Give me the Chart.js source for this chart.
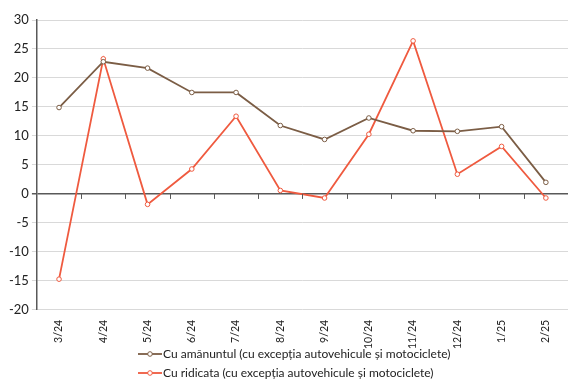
<!DOCTYPE html>
<html>
<head>
<meta charset="utf-8">
<script src="https://cdn.jsdelivr.net/npm/chart.js@4"></script>
<style>
  body { margin: 0; background: #fff; }
  #wrap { position: relative; width: 568px; height: 380px; }
  #legend { position: absolute; left: 138px; top: 344px; font-family: Lato, sans-serif; font-size: 12px; color: #222; }
  .item { display: flex; align-items: center; height: 19px; }
  .item canvas { margin-right: 1px; }
</style>
</head>
<body>
<div id="wrap">
  <canvas id="chart" width="568" height="380"></canvas>
  <div id="legend"></div>
</div>
<script>
const months = ['3/24', '4/24', '5/24', '6/24', '7/24', '8/24', '9/24', '10/24', '11/24', '12/24', '1/25', '2/25'];
const retailValues = [14.9, 22.8, 21.7, 17.5, 17.5, 11.8, 9.4, 13.1, 10.9, 10.8, 11.6, 2.0];
const wholesaleValues = [-14.7, 23.3, -1.8, 4.3, 13.4, 0.6, -0.7, 10.3, 26.4, 3.4, 8.2, -0.7];
const seriesNames = [
  'Cu amănuntul (cu excepția autovehicule și motociclete)',
  'Cu ridicata (cu excepția autovehicule și motociclete)'
];
const seriesColors = ['#7b5d45', '#ef5a3f'];

// small tick marks hanging under the zero line, one per category boundary
const zeroTicks = {
  id: 'zeroTicks',
  afterDraw(chart) {
    const { ctx, chartArea, scales } = chart;
    const y0 = scales.y.getPixelForValue(0);
    const step = (chartArea.right - chartArea.left) / months.length;
    ctx.save();
    ctx.strokeStyle = '#595959';
    ctx.lineWidth = 1;
    for (let i = 1; i < months.length; i++) {
      const x = Math.round(chartArea.left + i * step) + 0.5;
      ctx.beginPath();
      ctx.moveTo(x, y0);
      ctx.lineTo(x, y0 + 5);
      ctx.stroke();
    }
    ctx.restore();
  }
};

new Chart(document.getElementById('chart'), {
  type: 'line',
  data: {
    labels: months,
    datasets: [
      { label: seriesNames[0], data: retailValues, borderColor: seriesColors[0] },
      { label: seriesNames[1], data: wholesaleValues, borderColor: seriesColors[1] }
    ].map(d => Object.assign(d, {
      borderWidth: 1.8,
      pointRadius: 2.3,
      pointBorderWidth: 1,
      pointBackgroundColor: '#fff',
      pointBorderColor: d.borderColor,
      tension: 0
    }))
  },
  options: {
    responsive: false,
    animation: false,
    layout: { autoPadding: false, padding: { top: 20, right: 0, bottom: 29, left: 6 } },
    plugins: { legend: { display: false }, tooltip: { enabled: false } },
    scales: {
      x: {
        offset: true,
        grid: { display: false },
        border: { display: false },
        ticks: {
          minRotation: 90, maxRotation: 90, padding: 2,
          color: '#222', font: { family: 'Lato', size: 10.5 }
        }
      },
      y: {
        min: -20, max: 30,
        border: { color: '#595959', width: 1.5 },
        grid: {
          tickLength: 5,
          color: c => c.tick.value === 0 ? '#595959' : '#d9d9d9',
          lineWidth: c => c.tick.value === 0 ? 1.5 : 1
        },
        ticks: {
          stepSize: 5, padding: 3,
          color: '#222', font: { family: 'Lato', size: 13 }
        }
      }
    }
  },
  plugins: [zeroTicks]
});

// legend: line with a hollow circle, then the series name
const legend = document.getElementById('legend');
seriesNames.forEach((name, i) => {
  const row = document.createElement('div');
  row.className = 'item';
  const c = document.createElement('canvas');
  c.width = 24; c.height = 10;
  const g = c.getContext('2d');
  g.strokeStyle = seriesColors[i];
  g.lineWidth = 1.8;
  g.beginPath(); g.moveTo(0, 5); g.lineTo(24, 5); g.stroke();
  g.fillStyle = '#fff';
  g.lineWidth = 1;
  g.beginPath(); g.arc(12, 5, 2.3, 0, Math.PI * 2); g.fill(); g.stroke();
  const span = document.createElement('span');
  span.textContent = name;
  row.appendChild(c);
  row.appendChild(span);
  legend.appendChild(row);
});
</script>
</body>
</html>
